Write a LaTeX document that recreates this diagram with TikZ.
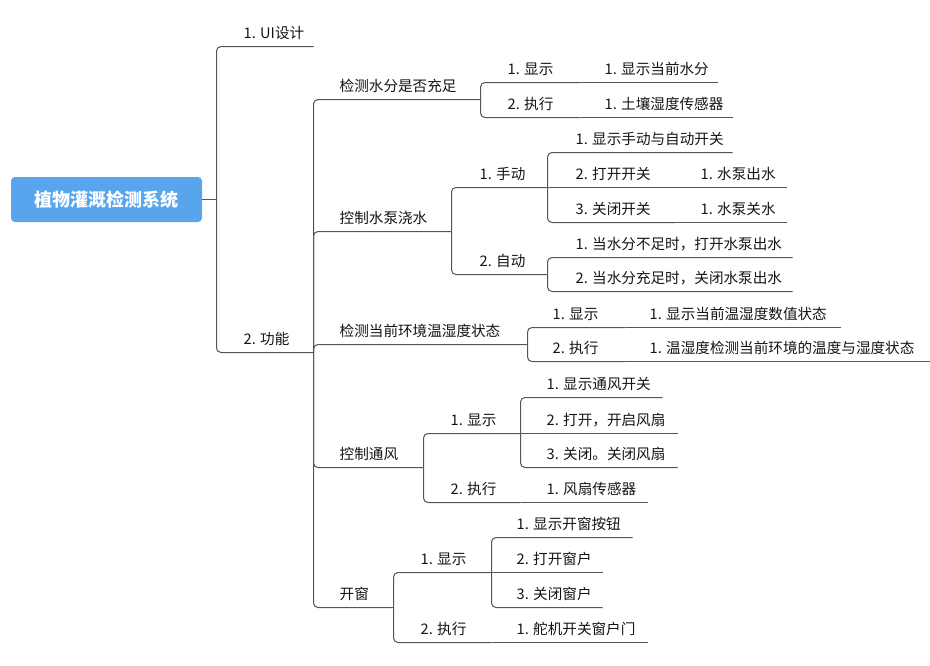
\documentclass[tikz,border=0pt]{standalone}
\usepackage{fontspec}
\setmainfont{Noto Sans CJK SC}
\definecolor{rootblue}{RGB}{88,165,238}
\definecolor{linegray}{RGB}{85,85,85}
\definecolor{txt}{RGB}{20,20,20}
\tikzset{
  conn/.style={draw=linegray, line width=1pt, rounded corners=4.5pt},
  lbl/.style={anchor=west, inner sep=0pt, text=txt, font=\fontsize{14.6}{16}\selectfont},
  rootbox/.style={fill=rootblue, rounded corners=4pt, minimum width=191pt, minimum height=45pt, text=white, font=\fontsize{18}{20}\selectfont\bfseries, inner sep=0pt}
}
% topic reached by a bracket (vertical then horizontal)
\newcommand\mmtopic[6]{%
  \coordinate (#1-e) at (#5,#4);
  \node[lbl] (#1) at (#3,#4-13.5) {#6};
  \draw[conn] (#2) |- (#1-e);
}
% topic on the same level line as its parent (straight continuation)
\newcommand\mmline[6]{%
  \coordinate (#1-e) at (#5,#4);
  \node[lbl] (#1) at (#3,#4-13.5) {#6};
  \draw[conn] (#2) -- (#1-e);
}
\begin{document}
\begin{tikzpicture}[x=1pt,y=-1pt]
\useasboundingbox (0,0) rectangle (930,665);
\begin{scope}[shift={(0.5,0.5)}]
\node[rootbox] (root) at (106,199) {植物灌溉检测系统};
\coordinate (root-e) at (216,199);
\draw[conn] (root.east) -- (root-e);
% level 1
\mmtopic{A}{root-e}{243}{46}{313}{1. UI设计}
\mmtopic{B}{root-e}{243}{352}{313}{2. 功能}
% level 2
\mmtopic{B1}{B-e}{339}{99}{480}{检测水分是否充足}
\mmtopic{B2}{B-e}{339}{231}{451}{控制水泵浇水}
\mmtopic{B3}{B-e}{339}{344}{527}{检测当前环境温湿度状态}
\mmtopic{B4}{B-e}{339}{467}{423}{控制通风}
\mmtopic{B5}{B-e}{339}{607}{393}{开窗}
% B1
\mmtopic{B11}{B1-e}{507}{82}{580}{1. 显示}
\mmline{B111}{B11-e}{604}{82}{717}{1. 显示当前水分}
\mmtopic{B12}{B1-e}{507}{117}{580}{2. 执行}
\mmline{B121}{B12-e}{604}{117}{732}{1. 土壤湿度传感器}
% B2
\mmtopic{B21}{B2-e}{479}{187}{547}{1. 手动}
\mmtopic{B211}{B21-e}{575}{152}{732}{1. 显示手动与自动开关}
\mmline{B212}{B21-e}{575}{187}{675}{2. 打开开关}
\mmline{B2121}{B212-e}{700}{187}{786}{1. 水泵出水}
\mmtopic{B213}{B21-e}{575}{222}{675}{3. 关闭开关}
\mmline{B2131}{B213-e}{700}{222}{786}{1. 水泵关水}
\mmtopic{B22}{B2-e}{479}{274}{547}{2. 自动}
\mmtopic{B221}{B22-e}{575}{257}{792}{1. 当水分不足时，打开水泵出水}
\mmtopic{B222}{B22-e}{575}{291}{792}{2. 当水分充足时，关闭水泵出水}
% B3
\mmtopic{B31}{B3-e}{552}{327}{625}{1. 显示}
\mmline{B311}{B31-e}{649}{327}{840}{1. 显示当前温湿度数值状态}
\mmtopic{B32}{B3-e}{552}{361}{625}{2. 执行}
\mmline{B321}{B32-e}{649}{361}{929}{1. 温湿度检测当前环境的温度与湿度状态}
% B4
\mmtopic{B41}{B4-e}{450}{433}{520}{1. 显示}
\mmtopic{B411}{B41-e}{546}{397}{662}{1. 显示通风开关}
\mmline{B412}{B41-e}{546}{433}{677}{2. 打开，开启风扇}
\mmtopic{B413}{B41-e}{546}{467}{677}{3. 关闭。关闭风扇}
\mmtopic{B42}{B4-e}{450}{502}{520}{2. 执行}
\mmline{B421}{B42-e}{546}{502}{647}{1. 风扇传感器}
% B5
\mmtopic{B51}{B5-e}{420}{572}{491}{1. 显示}
\mmtopic{B511}{B51-e}{516}{537}{632}{1. 显示开窗按钮}
\mmline{B512}{B51-e}{516}{572}{602}{2. 打开窗户}
\mmtopic{B513}{B51-e}{516}{607}{602}{3. 关闭窗户}
\mmtopic{B52}{B5-e}{420}{642}{491}{2. 执行}
\mmline{B521}{B52-e}{516}{642}{647}{1. 舵机开关窗户门}
\end{scope}
\end{tikzpicture}
\end{document}
